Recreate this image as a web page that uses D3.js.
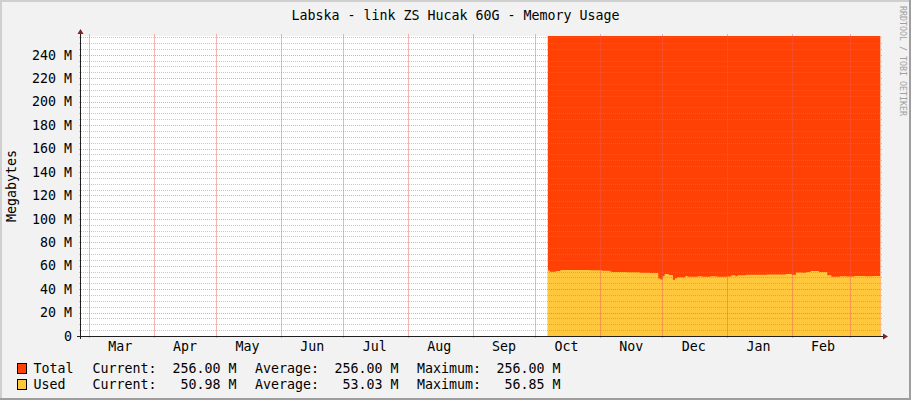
<!DOCTYPE html>
<html>
<head>
<meta charset="utf-8">
<script src="https://cdn.jsdelivr.net/npm/d3@7"></script>
<style>
  html, body { margin: 0; padding: 0; background: #f2f2f2; }
  svg { display: block; }
  text { font-family: "DejaVu Sans Mono", monospace; fill: #000; }
</style>
</head>
<body>
<svg id="chart" width="911" height="400"></svg>
<script>
// ---------------- DATA ----------------
const title = "Labska - link ZS Hucak 60G - Memory Usage";
const yAxisTitle = "Megabytes";
const watermark = "RRDTOOL / TOBI OETIKER";

const monthStarts = ["2012-03-01","2012-04-01","2012-05-01","2012-06-01","2012-07-01","2012-08-01",
  "2012-09-01","2012-10-01","2012-11-01","2012-12-01","2013-01-01","2013-02-01","2013-03-01"];
const monthLabels = ["Mar","Apr","May","Jun","Jul","Aug","Sep","Oct","Nov","Dec","Jan","Feb"];

const yTickValues = [0,20,40,60,80,100,120,140,160,180,200,220,240];
const yTickLabels = ["0","20 M","40 M","60 M","80 M","100 M","120 M","140 M","160 M","180 M","200 M","220 M","240 M"];

const totalDates  = ["2012-10-07","2013-03-15T12:00"];
const totalValues = [256, 256];

const usedDates = ["2012-10-07","2012-10-08","2012-10-11","2012-10-13","2012-10-20","2012-10-27",
  "2012-11-02","2012-11-06","2012-11-07","2012-11-14","2012-11-20","2012-11-25","2012-11-29",
  "2012-11-30","2012-12-01","2012-12-02","2012-12-04","2012-12-06","2012-12-07","2012-12-08",
  "2012-12-12","2012-12-13","2012-12-18","2012-12-20","2012-12-24","2012-12-27","2013-01-01",
  "2013-01-03","2013-01-05","2013-01-06","2013-01-10","2013-01-20","2013-01-29","2013-02-01",
  "2013-02-03","2013-02-06","2013-02-08","2013-02-10","2013-02-14","2013-02-18","2013-02-20",
  "2013-02-24","2013-02-27","2013-03-03","2013-03-08","2013-03-12","2013-03-15T12:00"];
const usedValues = [55.8,54.8,55.4,56.3,56.4,56.2,
  55.6,54.8,54.6,54.5,53.9,53.8,49.0,
  48.3,51.0,52.9,52.0,48.0,49.3,50.1,
  51.2,50.6,51.0,50.6,51.0,50.6,50.8,
  51.8,51.0,51.8,52.3,52.4,52.9,52.3,
  54.2,53.9,54.6,55.5,54.6,51.8,50.6,
  51.0,50.8,51.2,50.9,51.2,50.98];

const legendNames   = ["Total","Used"];
const legendColors  = ["#FF4105","#FFC73B"];
const legendCurrent = ["256.00 M","50.98 M"];
const legendAverage = ["256.00 M","53.03 M"];
const legendMaximum = ["256.00 M","56.85 M"];

// ---------------- LAYOUT ----------------
const W = 911, H = 400;
const X0 = 81, X1 = 881, Y0 = 336, Y1 = 36;
const svg = d3.select("#chart");
const parse = s => new Date(s.length > 10 ? s + "Z" : s + "T00:00:00Z");

const x = d3.scaleUtc()
  .domain([new Date(Date.UTC(2012,1,26,3)), new Date(Date.UTC(2013,2,15,19))])
  .range([X0, X1]);
const y = d3.scaleLinear().domain([0, 256]).range([Y0, Y1]);

// background + frame
svg.append("rect").attr("width", W).attr("height", H).attr("fill", "#f2f2f2");
svg.append("rect").attr("x",0).attr("y",0).attr("width",W).attr("height",2).attr("fill","#cfcfcf");
svg.append("rect").attr("x",0).attr("y",0).attr("width",2).attr("height",H).attr("fill","#cfcfcf");
svg.append("rect").attr("x",0).attr("y",H-2).attr("width",W).attr("height",2).attr("fill","#9e9e9e");
svg.append("rect").attr("x",W-2).attr("y",0).attr("width",2).attr("height",H).attr("fill","#9e9e9e");

// canvas
svg.append("rect").attr("x", X0).attr("y", Y1).attr("width", X1 - X0).attr("height", Y0 - Y1).attr("fill", "#fff");

// areas
const totalData = totalDates.map((d,i) => ({t: parse(d), v: totalValues[i]}));
const usedData  = usedDates.map((d,i) => ({t: parse(d), v: usedValues[i]}));
const area = d3.area().curve(d3.curveStepAfter)
  .x(d => x(d.t)).y0(y(0)).y1(d => y(d.v));
svg.append("path").datum(totalData).attr("d", area).attr("fill", legendColors[0]);
svg.append("path").datum(usedData).attr("d", area).attr("fill", legendColors[1]);

// grid
const g = svg.append("g").attr("shape-rendering", "crispEdges");
const minor = d3.range(5, 256, 5).filter(v => v % 20 !== 0);
g.selectAll(".hmin").data(minor).enter().append("line")
  .attr("x1", X0 - 2).attr("x2", X1 + 2)
  .attr("y1", d => Math.round(y(d)) + 0.5).attr("y2", d => Math.round(y(d)) + 0.5)
  .attr("stroke", "rgba(143,143,143,0.5)").attr("stroke-dasharray", "1,1");
g.selectAll(".hmaj").data(yTickValues.filter(v => v > 0)).enter().append("line")
  .attr("x1", X0 - 2).attr("x2", X1 + 2)
  .attr("y1", d => Math.round(y(d)) + 0.5).attr("y2", d => Math.round(y(d)) + 0.5)
  .attr("stroke", "rgba(222,79,79,0.5)").attr("stroke-dasharray", "1,1");
g.selectAll(".vmaj").data(monthStarts.map(parse)).enter().append("line")
  .attr("x1", d => Math.round(x(d)) + 0.5).attr("x2", d => Math.round(x(d)) + 0.5)
  .attr("y1", Y0 + 2).attr("y2", Y1 - 2)
  .attr("stroke", "rgba(235,90,90,0.45)");

// axes
const axisCol = "#1f1f1f", arrowCol = "#801f1f";
g.append("line").attr("x1", X0 - 4).attr("x2", X1 + 3).attr("y1", Y0 + 0.5).attr("y2", Y0 + 0.5)
  .attr("stroke", axisCol);
g.append("line").attr("x1", X0 - 0.5).attr("x2", X0 - 0.5).attr("y1", Y0 + 3).attr("y2", Y1 - 3)
  .attr("stroke", axisCol);
svg.append("path").attr("d", `M${X1+2},${Y0-2.5}L${X1+7},${Y0+0.5}L${X1+2},${Y0+3.5}Z`).attr("fill", arrowCol);
svg.append("path").attr("d", `M${X0-3.5},${Y1-2}L${X0-0.5},${Y1-7}L${X0+2.5},${Y1-2}Z`).attr("fill", arrowCol);

// y tick labels
svg.selectAll(".ylab").data(yTickValues).enter().append("text")
  .attr("x", 72).attr("y", d => y(d)).attr("dy", "0.36em")
  .attr("text-anchor", "end").attr("font-size", "13.3px")
  .text((d,i) => yTickLabels[i]);

// month labels: RRDtool places them at month start + 15 days
svg.selectAll(".xlab").data(monthLabels).enter().append("text")
  .attr("x", (d,i) => x(d3.utcDay.offset(parse(monthStarts[i]), 15)))
  .attr("y", 351).attr("text-anchor", "middle").attr("font-size", "13.3px")
  .text(d => d);

// title
svg.append("text").attr("x", 455.5).attr("y", 19.5).attr("text-anchor", "middle")
  .attr("font-size", "13.3px").text(title);

// y axis title
svg.append("text").attr("transform", `translate(11.5,186) rotate(-90)`)
  .attr("text-anchor", "middle").attr("dy", "0.36em").attr("font-size", "13.3px").text(yAxisTitle);

// watermark
svg.append("text").attr("transform", `translate(902.5,6) rotate(90)`)
  .attr("dy", "0.36em").attr("font-size", "8.3px").style("fill", "#a0a0a0").text(watermark);

// legend
const rowY = [373, 388.5];
legendNames.forEach((name, i) => {
  const by = rowY[i];
  svg.append("rect").attr("x", 17.5).attr("y", by - 9.5).attr("width", 9).attr("height", 10)
    .attr("fill", legendColors[i]).attr("stroke", "#000").attr("shape-rendering", "crispEdges");
  const t = (xx, s, anchor) => svg.append("text").attr("x", xx).attr("y", by)
    .attr("font-size", "13.3px").attr("text-anchor", anchor).text(s);
  t(33.5, name, "start");
  t(92.5, "Current:", "start");
  t(236.5, legendCurrent[i], "end");
  t(255, "Average:", "start");
  t(398.5, legendAverage[i], "end");
  t(417, "Maximum:", "start");
  t(560.5, legendMaximum[i], "end");
});
</script>
</body>
</html>
